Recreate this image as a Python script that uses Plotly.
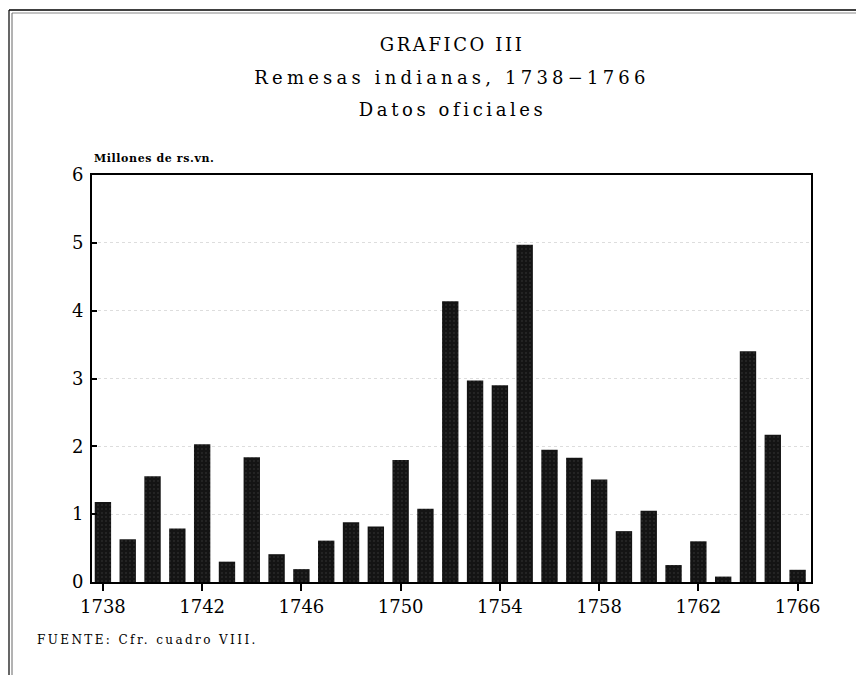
import plotly.graph_objects as go

years = list(range(1738, 1767))
values = [1.18, 0.63, 1.56, 0.79, 2.03, 0.30, 1.84, 0.41, 0.19, 0.61,
          0.88, 0.82, 1.80, 1.08, 4.14, 2.97, 2.90, 4.97, 1.95, 1.83,
          1.51, 0.75, 1.05, 0.25, 0.60, 0.08, 3.40, 2.17, 0.18]
x_ticks = [1738, 1742, 1746, 1750, 1754, 1758, 1762, 1766]
y_ticks = [0, 1, 2, 3, 4, 5, 6]

title_lines = ["GRAFICO III", "Remesas indianas, 1738\u22121766", "Datos oficiales"]
y_label = "Millones de rs.vn."
source = "FUENTE: Cfr. cuadro VIII."

# page has an 8px body margin; the figure is sized to fit the window
OFF = 8
W, H = 864 - OFF, 675 - OFF
L, T = 92 - OFF, 175 - OFF
R, B = W - (811 - OFF), H - (582 - OFF)
PW, PH = W - L - R, H - T - B

def px(x):
    return (x - OFF - L) / PW

def py(y):
    return 1 - (y - OFF - T) / PH

SERIF = "DejaVu Serif"

fig = go.Figure(go.Bar(
    x=years, y=values, width=0.66,
    marker=dict(color="#141414", line=dict(width=0),
                pattern=dict(shape=".", fgcolor="#6a6a6a", bgcolor="#141414",
                             size=4, solidity=0.08)),
))

fig.update_layout(
    width=W, height=H,
    margin=dict(l=L, r=R, t=T, b=B),
    paper_bgcolor="white", plot_bgcolor="white",
    showlegend=False, bargap=0.3,
    font=dict(family=SERIF, color="black"),
    xaxis=dict(range=[1737.56, 1766.54], tickvals=x_ticks,
               ticks="outside", ticklen=7, tickwidth=1.5, tickcolor="black",
               tickfont=dict(size=18, family=SERIF),
               showgrid=False, zeroline=False,
               showline=True, linecolor="black", linewidth=2, mirror=True),
    yaxis=dict(range=[0, 6], tickvals=y_ticks,
               ticks="inside", ticklen=5, tickwidth=1.5, tickcolor="black",
               tickfont=dict(size=18, family=SERIF), ticklabelstandoff=3,
               showgrid=True, gridcolor="#dddddd", griddash="dot", gridwidth=1,
               zeroline=False,
               showline=True, linecolor="black", linewidth=2, mirror=True),
)

for txt, yy in zip(title_lines, [45, 78, 110]):
    fig.add_annotation(text=txt, x=px(452), y=py(yy), xref="paper", yref="paper",
                       showarrow=False, xanchor="center", yanchor="middle",
                       font=dict(size=18, family=SERIF))

fig.add_annotation(text="<b>" + y_label + "</b>", x=px(92), y=py(159),
                   xref="paper", yref="paper", showarrow=False,
                   xanchor="left", yanchor="middle",
                   font=dict(size=11, family=SERIF))

fig.add_annotation(text=source, x=px(35), y=py(640),
                   xref="paper", yref="paper", showarrow=False,
                   xanchor="left", yanchor="middle",
                   font=dict(size=12, family=SERIF))

# document frame
fig.add_shape(type="line", xref="paper", yref="paper",
              x0=px(9), x1=px(880), y0=py(10), y1=py(10),
              line=dict(color="black", width=1.5))
fig.add_shape(type="line", xref="paper", yref="paper",
              x0=px(12), x1=px(880), y0=py(13), y1=py(13),
              line=dict(color="#888", width=1))
fig.add_shape(type="line", xref="paper", yref="paper",
              x0=px(9), x1=px(9), y0=py(10), y1=py(690),
              line=dict(color="black", width=1.2))
fig.add_shape(type="line", xref="paper", yref="paper",
              x0=px(12), x1=px(12), y0=py(13), y1=py(690),
              line=dict(color="#666", width=1))

# widen the letter spacing of the typewritten texts (title lines, label, source);
# left-anchored texts are shifted back so their left edge stays in place
spacing_js = """
var gd = document.getElementById('{plot_id}');
var sp = ['2.6px', '4.2px', '3.6px', '0.6px', '2.4px'];
var keepLeft = [false, false, false, true, true];
var t = gd.querySelectorAll('.annotation-text');
for (var i = 0; i < t.length && i < sp.length; i++) {
  var el = t[i];
  var b0 = el.getBBox();
  el.style.letterSpacing = sp[i];
  var b1 = el.getBBox();
  if (keepLeft[i]) {
    var x = parseFloat(el.getAttribute('x')) || 0;
    el.setAttribute('x', x + (b0.x - b1.x));
  }
}
"""

fig.write_html("out.html", post_script=spacing_js)
